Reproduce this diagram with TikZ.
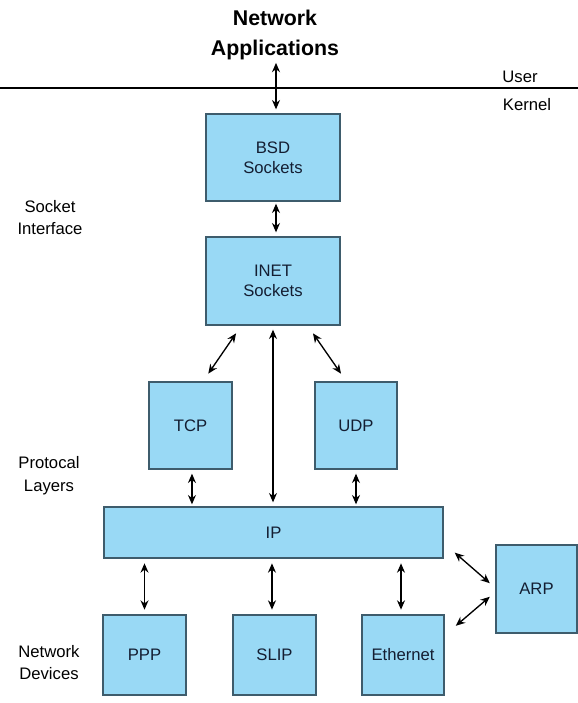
\documentclass[tikz,border=0pt]{standalone}
\usepackage{fontspec}
\setmainfont{Liberation Sans}
\usepackage{tikz}
\usetikzlibrary{arrows.meta,calc}
\definecolor{boxfill}{RGB}{153,217,245}
\definecolor{boxline}{RGB}{62,92,108}
\definecolor{boxtext}{RGB}{20,30,50}

\begin{document}
\begin{tikzpicture}[x=0.75pt,y=-0.75pt,
    layer/.style={draw=boxline,fill=boxfill,line width=1pt,inner sep=0pt,align=center,
      text=boxtext,font=\fontsize{12.5}{15}\selectfont},
    side/.style={align=center,inner sep=0pt,font=\fontsize{12.5}{17}\selectfont},
    link/.style={{Stealth[length=7pt,width=6pt]}-{Stealth[length=7pt,width=6pt]},line width=1pt}]
    \useasboundingbox (0,0) rectangle (578,703);
    \node[align=center,inner sep=0pt,font=\bfseries\fontsize{16}{22.5}\selectfont] (apps) at (275,35) {Network\\Applications};
    \draw[line width=1pt] (0,88) -- (578,88);
    \node[side] (user) at (520,77) {User};
    \node[side] (kernel) at (527,105) {Kernel};
    \node[side] (sockif) at (50,217.5) {Socket\\Interface};
    \node[side] (protol) at (49,475.5) {Protocal\\Layers};
    \node[side,font=\fontsize{12.5}{16}\selectfont] (netdev) at (49,662.5) {Network\\Devices};
    \node[layer,minimum width=100.5pt,minimum height=65.25pt] (bsd) at (273,157.5) {BSD\\Sockets};
    \node[layer,minimum width=100.5pt,minimum height=66pt] (inet) at (273,281) {INET\\Sockets};
    \node[layer,minimum width=62.25pt,minimum height=65.25pt] (tcp) at (190.5,425.5) {TCP};
    \node[layer,minimum width=61.5pt,minimum height=65.25pt] (udp) at (356,425.5) {UDP};
    \node[layer,minimum width=254.25pt,minimum height=38.25pt] (ip) at (273.5,532.5) {IP};
    \node[layer,minimum width=62.25pt,minimum height=60pt] (ppp) at (144.5,655) {PPP};
    \node[layer,minimum width=62.25pt,minimum height=60pt] (slip) at (274.5,655) {SLIP};
    \node[layer,minimum width=61.5pt,minimum height=60pt] (eth) at (403,655) {Ethernet};
    \node[layer,minimum width=60.75pt,minimum height=66pt] (arp) at (536.5,589) {ARP};
    % up and down the stack
    \draw[link,shorten <=2pt,shorten >=3pt] ([xshift=0.75pt]apps.south) -- ([xshift=0.75pt]apps.south |- bsd.north);
    \draw[link,shorten <=1.5pt,shorten >=3pt] ([xshift=2.25pt]bsd.south) -- ([xshift=2.25pt]bsd.south |- inet.north);
    \draw[link,shorten <=7pt,shorten >=7pt] ([xshift=27pt]inet.south west) -- ([xshift=41pt]tcp.north west);
    \draw[link,shorten <=7pt,shorten >=7pt] ([xshift=-24.75pt]inet.south east) -- ([xshift=24pt]udp.north west);
    \draw[link,shorten <=3pt,shorten >=3pt] (inet.south) -- (inet.south |- ip.north);
    \draw[link,shorten <=3pt,shorten >=1.5pt] ([xshift=1.1pt]tcp.south) -- ([xshift=1.1pt]tcp.south |- ip.north);
    \draw[link,shorten <=3pt,shorten >=1.5pt] (udp.south) -- (udp.south |- ip.north);
    \draw[link,shorten <=3.5pt,shorten >=3.5pt] (ppp.north |- ip.south) -- (ppp.north);
    \draw[link,shorten <=3.5pt,shorten >=3.5pt] ([xshift=-1.9pt]slip.north |- ip.south) -- ([xshift=-1.9pt]slip.north);
    \draw[link,shorten <=3.5pt,shorten >=3.5pt] ([xshift=-1.5pt]eth.north |- ip.south) -- ([xshift=-1.5pt]eth.north);
    % address resolution
    \draw[link,shorten <=11pt,shorten >=5.5pt] ($(ip.east)+(0,10.5)$) -- ($(arp.west)+(0,-1)$);
    \draw[link,shorten <=11pt,shorten >=5.5pt] ($(eth.north east)+(0,21)$) -- ($(arp.west)+(0,3)$);
\end{tikzpicture}
\end{document}
